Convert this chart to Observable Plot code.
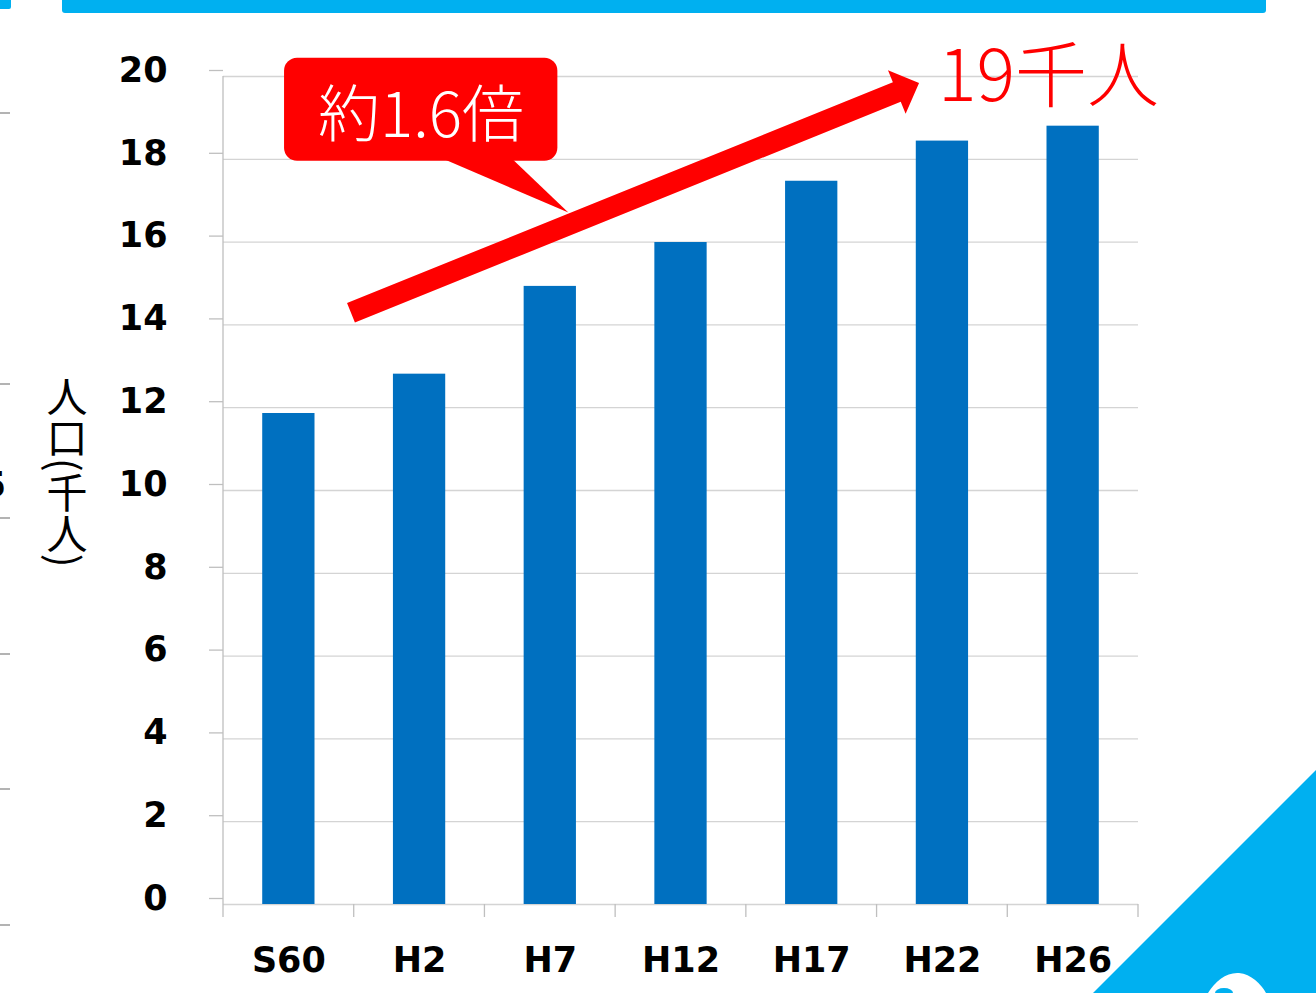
<!DOCTYPE html>
<html><head><meta charset="utf-8">
<script src="https://cdn.jsdelivr.net/npm/d3@7"></script>
<script src="https://cdn.jsdelivr.net/npm/@observablehq/plot@0.6"></script>
<style>
html,body{margin:0;padding:0;background:#fff;overflow:hidden;width:1316px;height:993px}
#wrap{position:relative;width:1316px;height:993px}
#chart{position:absolute;left:0;top:0}
#ytitle{position:absolute;left:46px;top:376px;writing-mode:vertical-rl;text-orientation:mixed;font-family:"Noto Sans CJK JP";font-weight:400;font-size:41px;line-height:41px;color:#000;white-space:nowrap}
#deco{position:absolute;left:0;top:0;pointer-events:none}
</style></head><body>
<div id="wrap">
  <div id="chart"></div>
  <div id="ytitle"></div>
  <svg id="deco" width="1316" height="993" xmlns="http://www.w3.org/2000/svg">
    <!-- top banner -->
    <path d="M62,0 H1266 V10 Q1266,13 1263,13 H65 Q62,13 62,10 Z" fill="#00b0f0"/>
    <path d="M0,0 H11 V7 Q11,9 9,9 H0 Z" fill="#00b0f0"/>
    <!-- fragments of the neighbouring slide at the left edge -->
    <g stroke="#9a9a9a" stroke-width="1.5">
      <line x1="0" x2="10" y1="113" y2="113"/>
      <line x1="0" x2="10" y1="384" y2="384"/>
      <line x1="0" x2="10" y1="518" y2="518"/>
      <line x1="0" x2="10" y1="654" y2="654"/>
      <line x1="0" x2="10" y1="789" y2="789"/>
      <line x1="0" x2="10" y1="925" y2="925"/>
    </g>
    <text x="6" y="497" text-anchor="end" font-family="DejaVu Sans" font-weight="bold" font-size="35" fill="#000">5</text>
    <!-- bottom-right corner decoration -->
    <path d="M1093,993 L1316,770 L1316,993 Z" fill="#00b0f0"/>
    <path d="M1208,993 C1215,981 1227,972 1239,973 C1251,974 1261,984 1266,993 Z" fill="#fff"/>
    <ellipse cx="1224" cy="993" rx="9" ry="5" fill="#00b0f0"/>
  </svg>
</div>
<script>
// ---- data ----
const categories = ["S60", "H2", "H7", "H12", "H17", "H22", "H26"];
const population = [11.86, 12.81, 14.93, 15.99, 17.47, 18.44, 18.80];
const yTicks = [0, 2, 4, 6, 8, 10, 12, 14, 16, 18, 20];
const yTitle = "人口(千人)";
const growthLabel = "約1.6倍";
const endLabel = "19千人";

const rows = categories.map((c, i) => ({year: c, value: population[i]}));
document.getElementById("ytitle").textContent = yTitle;

// ---- annotation anchors: u = position in category steps from the frame's left edge, v = data value ----
const arrowAnchor = {from: [0.979, 14.28], to: [5.325, 19.83]};
const calloutAnchor = {left: 0.467, right: 2.558, top: 20.44, bottom: 17.95, base1: 1.683, base2: 2.211, tipU: 2.642, tipV: 16.70, textU: 1.515, textV: 18.52};
const endLabelAnchor = {u: 5.47, v: 19.39};

const axisGray = "#bfbfbf";
const gridGray = "#d4d4d4";
const red = "#ff0000";

function bandGeom(scales, dims) {
  const sx = scales.x;
  let step, X0;
  if (sx && typeof sx.step === "function" && typeof sx.bandwidth === "function") {
    step = sx.step();
    X0 = sx(categories[0]) + sx.bandwidth() / 2 - step / 2;
  } else {
    step = (dims.width - dims.marginLeft - dims.marginRight) / categories.length;
    X0 = dims.marginLeft;
  }
  return {step, X0, X: u => X0 + u * step};
}

function frameLines(index, scales, values, dims) {
  const {X0, step} = bandGeom(scales, dims);
  const y0 = scales.y(0);
  const yTop = scales.y(d3.max(yTicks));
  const g = d3.create("svg:g").attr("stroke", axisGray).attr("stroke-width", 1.3).attr("fill", "none");
  for (let i = 0; i <= categories.length; i++) {
    const x = X0 + i * step;
    g.append("line").attr("x1", x).attr("x2", x).attr("y1", y0).attr("y2", y0 + 13);
  }
  g.append("line").attr("x1", X0).attr("x2", X0).attr("y1", yTop).attr("y2", y0);
  return g.node();
}

function annotations(index, scales, values, dims) {
  const {X} = bandGeom(scales, dims);
  const Y = v => scales.y(v);
  const g = d3.create("svg:g");

  // callout box
  const c = calloutAnchor;
  const L = X(c.left), R = X(c.right), T = Y(c.top), B = Y(c.bottom), r = 13;
  g.append("rect").attr("x", L).attr("y", T).attr("width", R - L).attr("height", B - T)
    .attr("rx", r).attr("ry", r).attr("fill", red);
  g.append("path").attr("fill", red)
    .attr("d", `M${X(c.base1)},${B - 2} L${X(c.tipU)},${Y(c.tipV)} L${X(c.base2)},${B - 2} Z`);
  g.append("text").attr("x", X(c.textU)).attr("y", Y(c.textV))
    .attr("text-anchor", "middle").attr("fill", "#fff")
    .attr("font-family", "Noto Sans CJK JP").attr("font-size", 62).attr("font-weight", 300)
    .text(growthLabel);

  // arrow
  const x1 = X(arrowAnchor.from[0]), y1 = Y(arrowAnchor.from[1]);
  const x2 = X(arrowAnchor.to[0]), y2 = Y(arrowAnchor.to[1]);
  const len = Math.hypot(x2 - x1, y2 - y1);
  const dx = (x2 - x1) / len, dy = (y2 - y1) / len;
  const px = -dy, py = dx;
  const w = 10.5, hw = 23.5, hl = 24;
  const nx = x2 - dx * hl, ny = y2 - dy * hl;
  const pts = [
    [x1 + px * w, y1 + py * w],
    [nx + px * w, ny + py * w],
    [nx + px * hw, ny + py * hw],
    [x2, y2],
    [nx - px * hw, ny - py * hw],
    [nx - px * w, ny - py * w],
    [x1 - px * w, y1 - py * w]
  ];
  g.append("polygon").attr("points", pts.map(p => p.join(",")).join(" ")).attr("fill", red);

  // end label
  g.append("text").attr("x", X(endLabelAnchor.u)).attr("y", Y(endLabelAnchor.v))
    .attr("text-anchor", "start")
    .attr("fill", red).attr("font-family", "Noto Sans CJK JP").attr("font-size", 72).attr("font-weight", 300)
    .text(endLabel);
  return g.node();
}

const chart = Plot.plot({
  width: 1316,
  height: 993,
  marginLeft: 223,
  marginRight: 178,
  marginTop: 76,
  marginBottom: 89,
  style: {fontFamily: "DejaVu Sans", background: "transparent", color: "#000"},
  x: {domain: categories, paddingInner: 0.6, paddingOuter: 0.3, round: false, label: null},
  y: {domain: [0, 20], label: null},
  marks: [
    Plot.gridY(yTicks, {stroke: gridGray, strokeOpacity: 1, strokeWidth: 1.3}),
    Plot.barY(rows, {x: "year", y: "value", fill: "#0070c0"}),
    Plot.axisY(yTicks, {tickSize: 14, tickPadding: 42, fontSize: 35, fontWeight: "bold", dy: -6,
      stroke: axisGray, strokeWidth: 1.3, fill: "#000", label: null, tickFormat: d => String(d)}),
    Plot.axisX({tickSize: 0, tickPadding: 43, fontSize: 35, fontWeight: "bold", fill: "#000", label: null}),
    Plot.frame({render: frameLines}),
    Plot.frame({render: annotations})
  ]
});
document.getElementById("chart").appendChild(chart);
</script>
</body></html>
